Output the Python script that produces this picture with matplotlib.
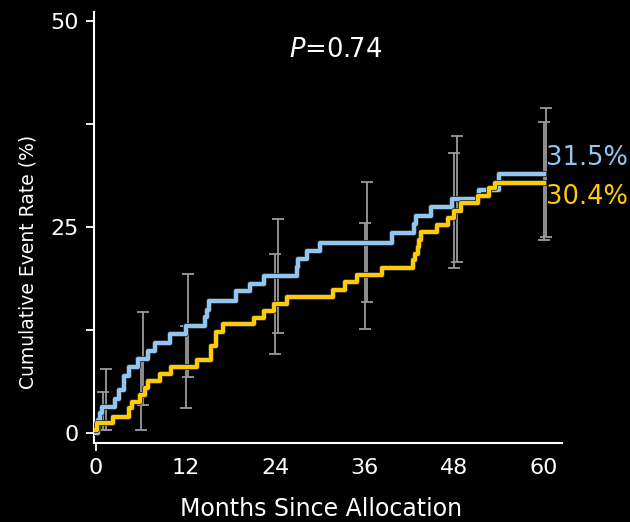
import matplotlib
matplotlib.use("Agg")
import matplotlib.pyplot as plt
import matplotlib.patheffects as pe
import numpy as np

# Kaplan-Meier style cumulative event curves (post steps)
blue_t = [0, 0.3, 0.5, 0.8, 2.6, 3.1, 3.7, 4.4, 5.7, 7.0, 7.9, 9.9, 12.1, 14.6,
          14.9, 15.2, 18.8, 20.6, 22.5, 26.9, 27.1, 28.2, 30.0, 39.6, 42.6, 42.9,
          44.9, 47.7, 51.3, 54.0, 60]
blue_v = [0, 1.6, 2.4, 3.2, 4.2, 5.2, 7.0, 8.0, 9.0, 10.0, 11.0, 12.0, 13.0, 14.1,
          15.0, 16.0, 17.2, 18.1, 19.1, 20.2, 21.1, 22.1, 23.1, 24.3, 25.4, 26.4,
          27.4, 28.4, 29.5, 31.5, 31.5]

gold_t = [0, 0.1, 2.3, 4.5, 4.8, 5.9, 6.6, 7.0, 8.6, 10.1, 13.5, 15.4, 16.1, 17.0,
          21.2, 22.5, 23.9, 25.6, 31.7, 33.4, 35.0, 38.3, 42.4, 42.7, 43.1, 43.3,
          43.5, 45.7, 47.1, 48.0, 48.9, 51.2, 52.6, 53.4, 60]
gold_v = [0.4, 1.2, 2.0, 3.0, 3.8, 4.6, 5.5, 6.3, 7.2, 8.0, 8.9, 10.6, 12.3, 13.2,
          14.0, 14.8, 15.7, 16.5, 17.4, 18.3, 19.2, 20.1, 21.0, 21.8, 22.6, 23.5,
          24.4, 25.2, 26.1, 27.0, 27.9, 28.8, 29.7, 30.4, 30.4]

# 95% confidence limits at selected months
ci_months = [1, 6, 12, 24, 36, 48, 60]
blue_lo = [0.4, 3.4, 6.8, 12.1, 15.9, 20.8, 23.8]
blue_hi = [7.8, 14.7, 19.3, 26.0, 30.5, 36.0, 39.4]
gold_lo = [0.4, 0.4, 3.0, 9.6, 12.7, 20.1, 23.5]
gold_hi = [5.0, 9.0, 13.0, 21.7, 25.5, 34.0, 37.7]

blue_end = 31.5
gold_end = 30.4
p_value = 0.74

x_ticks = [0, 12, 24, 36, 48, 60]

BLUE = "#92C6F2"
GOLD = "#FFCB05"
GREY = "#9A9A9A"

fig = plt.figure(figsize=(6.3, 5.22), dpi=100, facecolor="black")
ax = fig.add_axes([0.149, 0.151, 0.743, 0.826], facecolor="black")


def draw_ci(months, lo, hi, shift):
    x = np.array(months) + shift
    lo = np.array(lo)
    hi = np.array(hi)
    mid = (lo + hi) / 2
    ax.errorbar(x, mid, yerr=[mid - lo, hi - mid], fmt="none", ecolor=GREY,
                elinewidth=1.3, capsize=4, capthick=1.3, zorder=1)


draw_ci(ci_months, gold_lo, gold_hi, 0.0)
draw_ci(ci_months, blue_lo, blue_hi, 0.32)

outline = [pe.Stroke(linewidth=4.2, foreground="#2a2a2a"), pe.Normal()]
ax.step(blue_t, blue_v, where="post", color=BLUE, lw=3, zorder=3,
        path_effects=outline)
ax.step(gold_t, gold_v, where="post", color=GOLD, lw=3, zorder=4,
        path_effects=outline)

ax.text(60.2, 33.4, f"{blue_end:.1f}%", color=BLUE, fontsize=18.5,
        ha="left", va="center")
ax.text(60.2, 28.6, f"{gold_end:.1f}%", color=GOLD, fontsize=18.5,
        ha="left", va="center")
ax.text(32.1, 46.5, r"$\mathit{P}$=" + f"{p_value:.2f}", color="white",
        fontsize=18.5, ha="center", va="center")

ax.set_xlim(-0.27, 62.4)
ax.set_ylim(-1.21, 51.1)

for side in ["top", "right"]:
    ax.spines[side].set_visible(False)
for side in ["left", "bottom"]:
    ax.spines[side].set_color("white")
    ax.spines[side].set_linewidth(1.5)

ax.set_xticks(x_ticks)
ax.set_yticks([0, 25, 50])
ax.set_yticks([12.5, 37.5], minor=True)
ax.tick_params(axis="both", colors="white", labelsize=16, length=6, width=1.3)
ax.tick_params(axis="y", which="minor", colors="white", length=6, width=1.3)
ax.tick_params(axis="x", pad=5)
ax.tick_params(axis="y", pad=5)
for tick in ax.xaxis.get_major_ticks()[1:]:
    tick.tick1line.set_visible(False)

ax.set_xlabel("Months Since Allocation", color="white", fontsize=17)
ax.set_ylabel("Cumulative Event Rate (%)", color="white", fontsize=13.5)
ax.xaxis.set_label_coords(0.485, -0.125)
ax.yaxis.set_label_coords(-0.12, 0.42)

fig.savefig("out.png", dpi=100, facecolor="black")
